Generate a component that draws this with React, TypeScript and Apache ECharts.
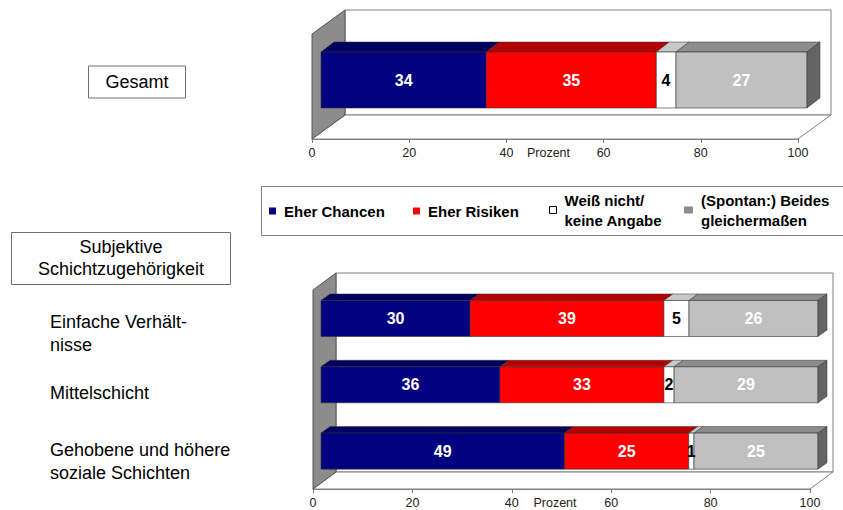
import React, { useEffect, useRef } from 'react';
import * as echarts from 'echarts';

// ---- data -------------------------------------------------------------
const segmentNames = [
  'Eher Chancen',
  'Eher Risiken',
  'Weiß nicht/\nkeine Angabe',
  '(Spontan:) Beides\ngleichermaßen',
];

const gesamtCategories = ['Gesamt'];
const gesamtChancen = [34];
const gesamtRisiken = [35];
const gesamtWeissNicht = [4];
const gesamtBeides = [27];

const schichtCategories = [
  'Einfache Verhält-\nnisse',
  'Mittelschicht',
  'Gehobene und höhere\nsoziale Schichten',
];
const schichtChancen = [30, 36, 49];
const schichtRisiken = [39, 33, 25];
const schichtWeissNicht = [5, 2, 1];
const schichtBeides = [26, 29, 25];

const axisMin = 0;
const axisMax = 100;
const axisStep = 20;
const axisName = 'Prozent';
const panelTitle = 'Subjektive\nSchichtzugehörigkeit';

// ---- styles -----------------------------------------------------------
const FONT = "'Liberation Sans', Arial, Helvetica, sans-serif";
const frontColors = ['#000080', '#ff0000', '#ffffff', '#c0c0c0'];
const topColors = ['#00005e', '#b40000', '#c8c8c8', '#8c8c8c'];
const sideColor = '#646464';
const labelColors = ['#ffffff', '#ffffff', '#000000', '#ffffff'];
const legendLeft = [269, 413, 549, 684];
const legendTop = [201, 201, 190, 190];
const legendIconColors = ['#000080', '#ff0000', '#ffffff', '#8c8c8c'];
// extra space above each row label, pushing the text a little below the bar centre
const rowLabelNudge = [20, 7, 11];

// pseudo-3D geometry per panel: bar front plane offset, bar depth, wall depth
const panels = [
  { front: [9, -6.5], depth: [13, -10], thickness: 0.533, wall: [33, -24] },
  { front: [8, -4.7], depth: [9, -6.5], thickness: 0.543, wall: [23, -17] },
];

const FACE_STROKE = '#303030';

function frameRenderer(panelIdx: number) {
  const [dx, dy] = panels[panelIdx].wall;
  return (params: any) => {
    const cs = params.coordSys;
    const x = cs.x;
    const y = cs.y;
    const w = cs.width;
    const h = cs.height;
    return {
      type: 'group',
      children: [
        {
          type: 'rect',
          shape: { x: x + dx, y: y + dy, width: w, height: h },
          style: { fill: '#ffffff', stroke: '#808080', lineWidth: 1 },
        },
        {
          type: 'polygon',
          shape: {
            points: [
              [x, y + h],
              [x + w, y + h],
              [x + w + dx, y + h + dy],
              [x + dx, y + h + dy],
            ],
          },
          style: { fill: '#ffffff', stroke: '#808080', lineWidth: 1 },
        },
        {
          type: 'polygon',
          shape: {
            points: [
              [x, y + h],
              [x, y],
              [x + dx, y + dy],
              [x + dx, y + h + dy],
            ],
          },
          style: { fill: '#8c8c8c', stroke: '#555555', lineWidth: 1 },
        },
      ],
    };
  };
}

function segmentRenderer(panelIdx: number, segIdx: number, isLast: boolean) {
  const p = panels[panelIdx];
  return (params: any, api: any) => {
    const start = api.value(0);
    const end = api.value(1);
    const cat = api.value(2);
    const val = api.value(3);
    const a = api.coord([start, cat]);
    const b = api.coord([end, cat]);
    const band = api.size([0, 1])[1];
    const h = band * p.thickness;
    const x0 = a[0] + p.front[0];
    const x1 = b[0] + p.front[0];
    const yc = a[1] + p.front[1];
    const yt = yc - h / 2;
    const yb = yc + h / 2;
    const [dx, dy] = p.depth;
    const children: any[] = [
      {
        type: 'polygon',
        shape: { points: [[x0, yt], [x1, yt], [x1 + dx, yt + dy], [x0 + dx, yt + dy]] },
        style: { fill: topColors[segIdx], stroke: FACE_STROKE, lineWidth: 0.5 },
      },
      {
        type: 'rect',
        shape: { x: x0, y: yt, width: x1 - x0, height: h },
        style: { fill: frontColors[segIdx], stroke: FACE_STROKE, lineWidth: 0.6 },
      },
    ];
    if (isLast) {
      children.push({
        type: 'polygon',
        shape: { points: [[x1, yt], [x1 + dx, yt + dy], [x1 + dx, yb + dy], [x1, yb]] },
        style: { fill: sideColor, stroke: FACE_STROKE, lineWidth: 0.5 },
      });
    }
    children.push({
      type: 'text',
      z2: 20,
      x: (x0 + x1) / 2,
      y: yc,
      style: {
        text: String(val),
        fill: labelColors[segIdx],
        fontFamily: FONT,
        fontSize: 16,
        fontWeight: 'bold',
        align: 'center',
        verticalAlign: 'middle',
      },
    });
    return { type: 'group', children };
  };
}

function stackSeries(panelIdx: number, segments: number[][]) {
  const out: any[] = [];
  segments.forEach((values, k) => {
    const data = values.map((v, i) => {
      let start = 0;
      for (let j = 0; j < k; j++) start += segments[j][i];
      return [start, start + v, i, v];
    });
    out.push({
      type: 'custom',
      name: segmentNames[k],
      xAxisIndex: panelIdx,
      yAxisIndex: panelIdx,
      z: k === 2 ? 3 : 2,
      silent: true,
      itemStyle: { color: legendIconColors[k] },
      encode: { x: [0, 1], y: 2 },
      renderItem: segmentRenderer(panelIdx, k, k === segments.length - 1),
      data,
    });
  });
  return out;
}

function frameSeries(panelIdx: number) {
  return {
    type: 'custom',
    name: 'frame' + panelIdx,
    xAxisIndex: panelIdx,
    yAxisIndex: panelIdx,
    z: 1,
    silent: true,
    encode: { x: 0, y: 1 },
    renderItem: frameRenderer(panelIdx),
    data: [[axisMin, 0]],
  };
}

function valueAxis(gridIndex: number, margin: number, nameGap: number) {
  return {
    type: 'value',
    gridIndex,
    min: axisMin,
    max: axisMax,
    interval: axisStep,
    name: axisName,
    nameLocation: 'middle',
    nameGap,
    nameMoveOverlap: false,
    nameTextStyle: {
      fontFamily: FONT,
      fontSize: 12.5,
      color: '#222',
      verticalAlign: 'top',
      padding: [0, 13, 0, 0],
    },
    axisLine: { show: true, lineStyle: { color: '#808080', width: 1 } },
    axisTick: { show: true, length: 4, lineStyle: { color: '#808080' } },
    splitLine: { show: false },
    axisLabel: { fontFamily: FONT, fontSize: 12.5, color: '#222', margin },
  };
}

const option: any = {
  animation: false,
  backgroundColor: '#ffffff',
  title: {
    text: panelTitle
      .split('\n')
      .map((l) => `{t|${l}}`)
      .join('\n'),
    left: 11,
    top: 230,
    padding: [6, 27, 7, 27],
    borderColor: '#707070',
    borderWidth: 1,
    textStyle: {
      fontFamily: FONT,
      fontWeight: 'normal',
      rich: {
        t: { fontFamily: FONT, fontSize: 18, lineHeight: 22, align: 'center', color: '#000', fontWeight: 'normal' },
      },
    },
  },
  legend: segmentNames.map((name, i) => ({
    data: [name],
    left: legendLeft[i],
    top: legendTop[i],
    padding: 0,
    icon: 'rect',
    itemWidth: i === 3 ? 9 : 7,
    itemHeight: 7,
    selectedMode: false,
    itemStyle:
      i === 2
        ? { color: '#ffffff', borderColor: '#000000', borderWidth: 1 }
        : { color: legendIconColors[i] },
    textStyle: {
      fontFamily: FONT,
      fontSize: 15,
      fontWeight: 'bold',
      color: '#000',
      lineHeight: 20,
      padding: [0, 0, 0, 3],
    },
  })),
  graphic: [
    {
      type: 'rect',
      shape: { x: 261.5, y: 186.5, width: 620, height: 49 },
      style: { fill: 'none', stroke: '#808080', lineWidth: 1 },
      z: 0,
    },
  ],
  grid: [
    { left: 312, top: 34, width: 486, height: 105, outerBoundsMode: 'none' },
    { left: 313, top: 290, width: 497, height: 199, outerBoundsMode: 'none' },
  ],
  xAxis: [valueAxis(0, 7, 7), valueAxis(1, 7, 7)],
  yAxis: [
    {
      type: 'category',
      gridIndex: 0,
      data: gesamtCategories,
      inverse: true,
      axisLine: { show: false },
      axisTick: { show: false },
      axisLabel: {
        margin: 175,
        align: 'center',
        padding: [0, 0, 9, 0],
        formatter: (v: string) => `{box|${v}}`,
        rich: {
          box: {
            fontFamily: FONT,
            fontSize: 18,
            lineHeight: 20,
            color: '#000',
            padding: [7, 17, 7, 17],
            borderColor: '#707070',
            borderWidth: 1,
          },
        },
      },
    },
    {
      type: 'category',
      gridIndex: 1,
      data: schichtCategories,
      inverse: true,
      axisLine: { show: false },
      axisTick: { show: false },
      axisLabel: {
        interval: 0,
        margin: 263,
        align: 'left',
        formatter: (v: string, idx: number) =>
          `{s${idx}| }\n` +
          v
            .split('\n')
            .map((l) => `{n|${l}}`)
            .join('\n'),
        rich: {
          n: { fontFamily: FONT, fontSize: 18, lineHeight: 23, color: '#000' },
          s0: { fontSize: 1, lineHeight: rowLabelNudge[0] },
          s1: { fontSize: 1, lineHeight: rowLabelNudge[1] },
          s2: { fontSize: 1, lineHeight: rowLabelNudge[2] },
        },
      },
    },
  ],
  series: [
    frameSeries(0),
    ...stackSeries(0, [gesamtChancen, gesamtRisiken, gesamtWeissNicht, gesamtBeides]),
    frameSeries(1),
    ...stackSeries(1, [schichtChancen, schichtRisiken, schichtWeissNicht, schichtBeides]),
  ],
};

export default function App() {
  const ref = useRef<HTMLDivElement>(null);
  useEffect(() => {
    const chart = echarts.init(ref.current!, null, { renderer: 'svg' });
    chart.setOption(option);
    return () => chart.dispose();
  }, []);
  return (
    <div
      ref={ref}
      style={{ position: 'fixed', left: 0, top: 0, width: 843, height: 510, background: '#ffffff' }}
    />
  );
}
